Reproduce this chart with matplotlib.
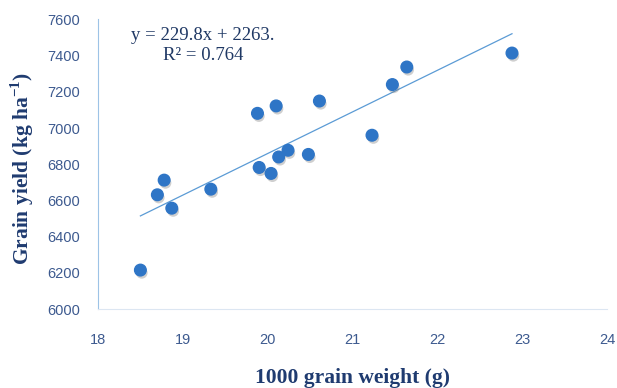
import matplotlib
matplotlib.use("Agg")
import matplotlib.pyplot as plt
import matplotlib.patheffects as pe

# 1000 grain weight (g) and grain yield (kg/ha)
grain_weight = [18.50, 18.70, 18.78, 18.87, 19.33, 19.88, 19.90, 20.04, 20.10,
                20.13, 20.24, 20.48, 20.61, 21.23, 21.47, 21.64, 22.88]
grain_yield = [6215, 6631, 6712, 6557, 6662, 7081, 6782, 6749, 7122,
               6840, 6877, 6854, 7149, 6960, 7240, 7337, 7414]

slope = 229.8
intercept = 2263
trend_x = [min(grain_weight), max(grain_weight)]
trend_y = [slope * x + intercept for x in trend_x]

xticks = [18, 19, 20, 21, 22, 23, 24]
yticks = [6000, 6200, 6400, 6600, 6800, 7000, 7200, 7400, 7600]

# superscript in the y label in the same serif face
plt.rcParams["mathtext.fontset"] = "custom"
plt.rcParams["mathtext.rm"] = "Liberation Serif:bold"
plt.rcParams["mathtext.bf"] = "Liberation Serif:bold"

fig = plt.figure(figsize=(6.17, 3.88), dpi=100)
ax = fig.add_axes([0.1588, 0.2036, 0.825, 0.7464])

ax.plot(trend_x, trend_y, color="#5B9BD5", lw=0.9, zorder=2)
ax.scatter(grain_weight, grain_yield, s=70, color="#2E75C6", zorder=3,
           path_effects=[pe.SimplePatchShadow(offset=(1, -2), alpha=0.35, shadow_rgbFace="#777777"),
                         pe.Normal()])

ax.set_xlim(18, 24)
ax.set_ylim(6000, 7600)
ax.set_xticks(xticks)
ax.set_yticks(yticks)
ax.tick_params(length=0, labelsize=10.5, labelcolor="#3D5A8F")
ax.tick_params(axis="x", pad=17)
ax.tick_params(axis="y", pad=13)
for lab in ax.get_xticklabels() + ax.get_yticklabels():
    lab.set_family("Liberation Sans")

for s in ["top", "right"]:
    ax.spines[s].set_visible(False)
ax.spines["left"].set_color("#9DC3E6")
ax.spines["bottom"].set_color("#DCE6F2")

ax.text(19.24, 7512, "y = 229.8x + 2263.", ha="center", va="center",
        fontsize=13.5, family="Liberation Serif", color="#1F3864")
ax.text(19.24, 7401, "R² = 0.764", ha="center", va="center",
        fontsize=13.5, family="Liberation Serif", color="#1F3864")

fig.text(0.036, 0.566, "Grain yield (kg ha$^{\\mathbf{-1}}$)", rotation=90, ha="center", va="center",
         fontsize=15.5, fontweight="bold", family="Liberation Serif", color="#1F3B70")
fig.text(0.572, 0.026, "1000 grain weight (g)", ha="center", va="center",
         fontsize=15.5, fontweight="bold", family="Liberation Serif", color="#1F3B70")

fig.savefig("out.png", dpi=100)
